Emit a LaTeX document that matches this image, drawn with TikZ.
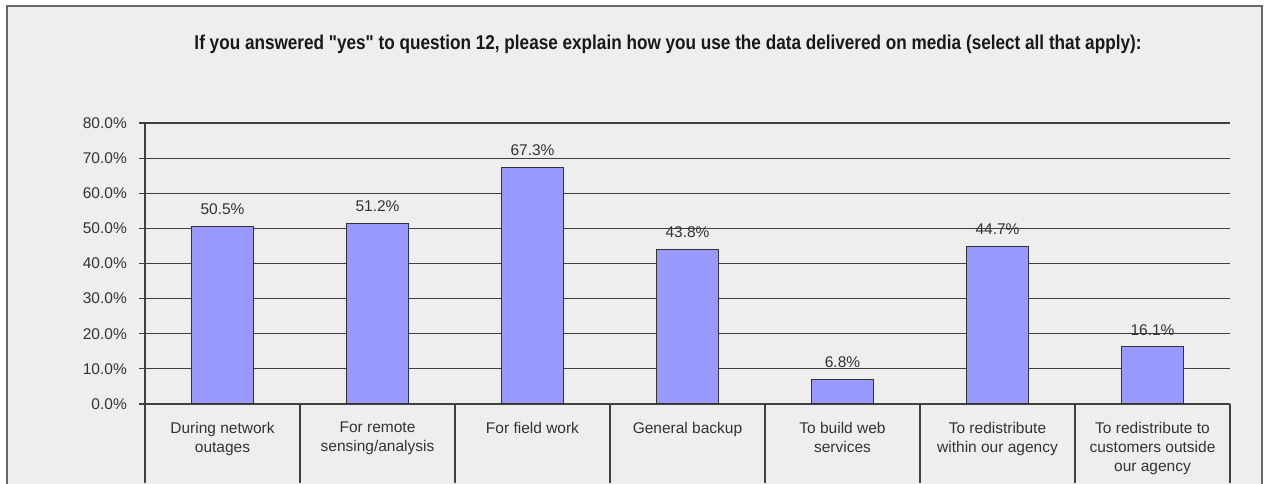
\documentclass[tikz,border=0pt]{standalone}
\usepackage{fontspec}
\setmainfont{Liberation Sans}
\usetikzlibrary{positioning}
\definecolor{barblue}{RGB}{153,153,255}
\definecolor{chartbg}{RGB}{238,238,238}
\tikzset{x=1pt, y=-1pt,
    chart frame/.style={draw=black!60, line width=1.5pt, fill=chartbg},
    grid line/.style={draw=black!75, line width=1.2pt},
    bar box/.style={draw=black!80, fill=barblue, line width=1pt,
        minimum width=62pt, inner sep=0pt, anchor=south},
    value label/.style={inner sep=0pt, text=black!80,
        font=\fontsize{15.5}{18}\selectfont},
    tick label/.style={inner sep=0pt, anchor=east, text=black!80,
        font=\fontsize{15.5}{18}\selectfont},
    cat label/.style={inner sep=0pt, anchor=north, align=center, text=black!80,
        font=\fontsize{15.5}{19}\selectfont},
    }

\begin{document}
\begin{tikzpicture}
\useasboundingbox (0,0) rectangle (1266,483);
\clip (0,0) rectangle (1266,483);
\fill[white] (0,0) rectangle (1266,483);
\draw[chart frame] (7,6) rectangle (1262,500);
% title
\node[inner sep=0pt, text=black!90] (title) at (668,44)
    {\resizebox{947pt}{\height}{\fontsize{20}{24}\selectfont\bfseries\addfontfeatures{Ligatures=TeXOff}If you answered "yes" to question 12, please explain how you use the data delivered on media (select all that apply):}};
% grid and y ticks
\foreach \v in {0,10,...,80}{
    \draw[grid line] (139,{404-3.5125*\v}) -- (1230,{404-3.5125*\v});
    \node[tick label] (tick\v) at (127,{404-3.5125*\v}) {\v.0\%};
}
\draw[grid line] (145,123) -- (145,483);
\foreach \i in {1,...,7}
    \draw[grid line] ({145+155*\i},404) -- ({145+155*\i},483);
% bars
\foreach \i/\v/\cat in {1/50.5/{During network\\outages},
        2/51.2/{For remote\\sensing/analysis},
        3/67.3/{For field work},
        4/43.8/{General backup},
        5/6.8/{To build web\\services},
        6/44.7/{To redistribute\\within our agency},
        7/16.1/{To redistribute to\\customers outside\\our agency}}{
    \node[bar box, minimum height={3.5125pt*\v}] (bar\i) at ({145+155*(\i-0.5)},404) {};
    \node[value label, above=11pt of bar\i.north] (val\i) {\v\%};
    \node[cat label] (cat\i) at ({145+155*(\i-0.5)},422) {\cat};
}
\end{tikzpicture}
\end{document}
